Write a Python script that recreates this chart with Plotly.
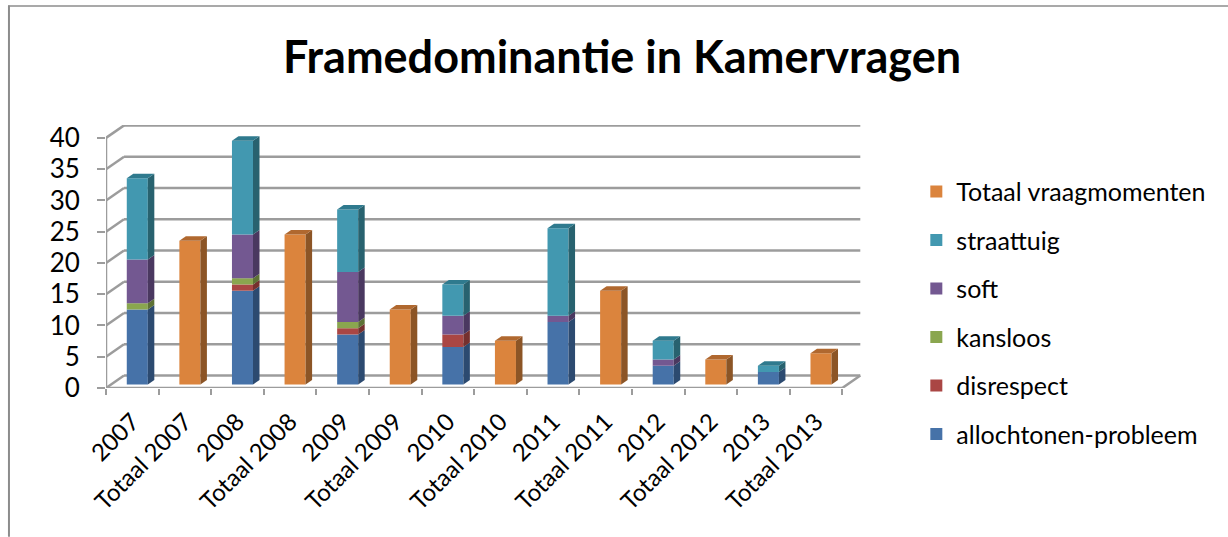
import plotly.graph_objects as go

# ---- data ----
categories = ["2007", "Totaal 2007", "2008", "Totaal 2008", "2009", "Totaal 2009", "2010",
              "Totaal 2010", "2011", "Totaal 2011", "2012", "Totaal 2012", "2013", "Totaal 2013"]
allochtonen = [12, 0, 15, 0, 8, 0, 6, 0, 10, 0, 3, 0, 2, 0]
disrespect = [0, 0, 1, 0, 1, 0, 2, 0, 0, 0, 0, 0, 0, 0]
kansloos = [1, 0, 1, 0, 1, 0, 0, 0, 0, 0, 0, 0, 0, 0]
soft = [7, 0, 7, 0, 8, 0, 3, 0, 1, 0, 1, 0, 0, 0]
straattuig = [13, 0, 15, 0, 10, 0, 5, 0, 14, 0, 3, 0, 1, 0]
totaal = [0, 23, 0, 24, 0, 12, 0, 7, 0, 15, 0, 4, 0, 5]
y_ticks = [0, 5, 10, 15, 20, 25, 30, 35, 40]

series = [
    ("allochtonen-probleem", allochtonen, "#4672A8", "#2C4A70", "#36597F"),
    ("disrespect", disrespect, "#AA4644", "#75302E", "#8A3836"),
    ("kansloos", kansloos, "#8AA64F", "#5E7235", "#6E8540"),
    ("soft", soft, "#735891", "#4A3860", "#5A4572"),
    ("straattuig", straattuig, "#4298B0", "#28626F", "#2F7A8E"),
    ("Totaal vraagmomenten", totaal, "#DB843D", "#8C5526", "#B0682F"),
]

# ---- geometry of the pseudo-3D look ----
W, H = 1228, 537
L, R, T, B = 106, 861.7, 124.7, 388
px_x = (842 - 106) / 14
px_y = 250.4 / 40
to_x = lambda p: p / px_x
to_y = lambda p: p / px_y
x0 = -0.5
x1 = 13.5
wall_dx, wall_dy = to_x(18), to_y(12.5)
bar_w = 0.4
shift_x, shift_y = to_x(5), to_y(3.5)
side_dx, side_dy = to_x(6.5), to_y(4.5)
GRID = "#9C9C9C"

xr = [x0, x0 + (R - L) / px_x]
yr = [0, (B - T) / px_y]
paper_x = lambda p: (p - L) / (R - L)
paper_y = lambda p: (B - p) / (B - T)

fig = go.Figure()
shapes = []
for v in y_ticks:
    shapes.append(dict(type="line", xref="x", yref="y", layer="below",
                       x0=x0, y0=v, x1=x0 + wall_dx, y1=v + wall_dy,
                       line=dict(color=GRID, width=2.5)))
    shapes.append(dict(type="line", xref="x", yref="y", layer="below",
                       x0=x0 + wall_dx, y0=v + wall_dy, x1=x1 + wall_dx, y1=v + wall_dy,
                       line=dict(color=GRID, width=2.5)))
# floor and axis lines
for a, b, c, d in [(x0, 0, x1, 0), (x1, 0, x1 + wall_dx, wall_dy), (x0, 0, x0, y_ticks[-1])]:
    shapes.append(dict(type="line", xref="x", yref="y", layer="below",
                       x0=a, y0=b, x1=c, y1=d, line=dict(color=GRID, width=2.5)))
# outer chart frame
shapes.append(dict(type="line", xref="paper", yref="paper", x0=paper_x(9), y0=paper_y(5), x1=paper_x(9), y1=paper_y(H),
                   line=dict(color="#8C8C8C", width=2)))
shapes.append(dict(type="line", xref="paper", yref="paper", x0=paper_x(8), y0=paper_y(5.5), x1=paper_x(W), y1=paper_y(5.5),
                   line=dict(color="#8C8C8C", width=1.5)))

stack = [0.0] * len(categories)
for idx, (name, vals, front, side, top) in enumerate(series):
    bases = [s + shift_y for s in stack]
    fig.add_trace(go.Bar(
        x=[i + shift_x for i in range(len(categories))],
        y=vals, base=bases, width=bar_w, name=name,
        marker=dict(color=front, line=dict(width=0)),
        legendgroup=name, legendrank=1000 - idx,
    ))
    for i, v in enumerate(vals):
        if v == 0:
            continue
        l = i + shift_x - bar_w / 2
        r = i + shift_x + bar_w / 2
        b = bases[i]
        t = b + v
        fig.add_trace(go.Scatter(
            x=[r, r + side_dx, r + side_dx, r, r], y=[b, b + side_dy, t + side_dy, t, b],
            mode="lines", fill="toself", fillcolor=side, line=dict(width=0),
            showlegend=False, hoverinfo="skip", legendgroup=name))
        is_top = stack[i] + v == sum(s[1][i] for s in series)
        if is_top:
            fig.add_trace(go.Scatter(
                x=[l, l + side_dx, r + side_dx, r, l], y=[t, t + side_dy, t + side_dy, t, t],
                mode="lines", fill="toself", fillcolor=top, line=dict(width=0),
                showlegend=False, hoverinfo="skip", legendgroup=name))
    stack = [s + v for s, v in zip(stack, vals)]

fig.update_layout(
    width=W, height=H, barmode="overlay",
    paper_bgcolor="white", plot_bgcolor="rgba(0,0,0,0)",
    font=dict(family="Lato, Carlito, sans-serif", color="black"),
    margin=dict(l=L, r=W - R, t=T, b=H - B, autoexpand=False),
    title=dict(text="<b>Framedominantie in Kamervragen</b>", x=622 / W, xanchor="center",
               y=1 - 57 / H, yanchor="middle", font=dict(size=45, color="black")),
    shapes=shapes,
    showlegend=True,
    legend=dict(x=paper_x(916), xanchor="left", y=paper_y(168.5), yanchor="top",
                traceorder="grouped", tracegroupgap=13,
                font=dict(size=25), itemwidth=30, bgcolor="rgba(0,0,0,0)", maxheight=400),
    xaxis=dict(range=xr, tickmode="array", tickvals=list(range(len(categories))), ticktext=categories,
               tickangle=-45, ticks="", showgrid=False, zeroline=False, showline=False,
               tickfont=dict(size=24), automargin=False, ticklabelstandoff=14,
               minor=dict(tickmode="array", tickvals=[x0 + i for i in range(len(categories) + 1)],
                          ticks="outside", ticklen=6, tickwidth=2, tickcolor=GRID, showgrid=False)),
    yaxis=dict(range=yr, tickmode="array", tickvals=y_ticks, ticks="outside", ticklen=8, tickwidth=2,
               tickcolor=GRID, showgrid=False, zeroline=False, showline=False,
               tickfont=dict(size=26), automargin=False, ticklabelstandoff=12),
)

fig.write_html("out.html", post_script="document.body.style.margin='0';",
               config=dict(displayModeBar=False))
